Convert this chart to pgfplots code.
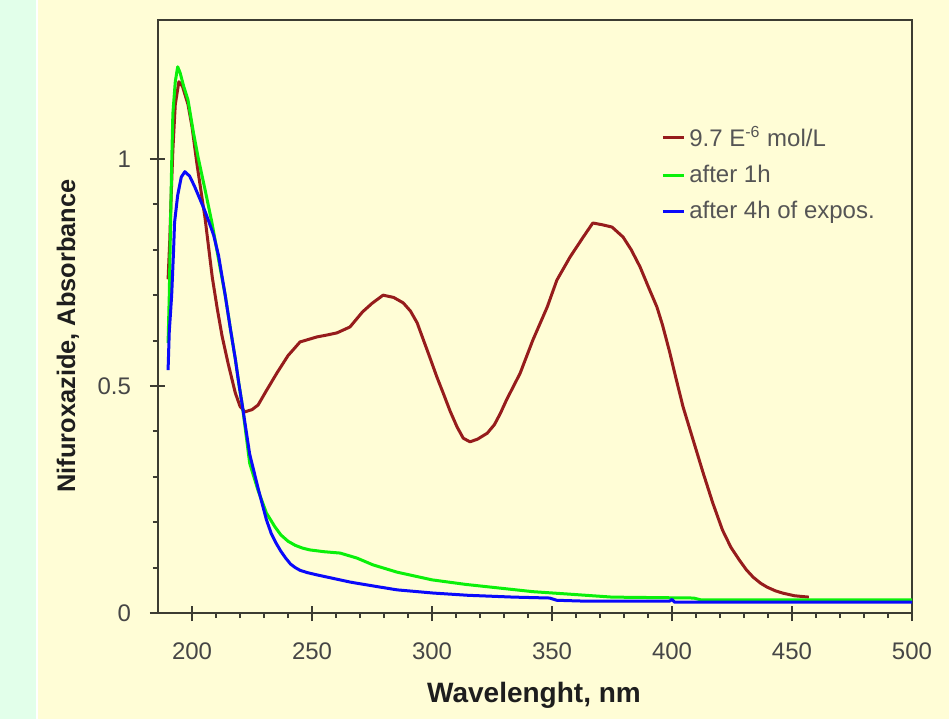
\documentclass[border=0pt]{standalone}
\usepackage{pgfplots}
\pgfplotsset{compat=1.18}
\usepackage{fontspec}
\setmainfont{Liberation Sans}
\definecolor{bgyellow}{RGB}{255,253,214}
\definecolor{bggreen}{RGB}{226,255,234}
\definecolor{curvered}{RGB}{150,28,28}
\definecolor{curvegreen}{RGB}{10,240,10}
\definecolor{curveblue}{RGB}{10,10,250}
\definecolor{axisgray}{RGB}{60,60,50}
\definecolor{ticktext}{RGB}{70,70,70}
\definecolor{legtext}{RGB}{85,85,85}

\begin{document}
\begin{tikzpicture}
\fill[bgyellow] (0pt,0pt) rectangle (474.5pt,-359.5pt);
\fill[bggreen] (0pt,0pt) rectangle (18pt,-359.5pt);
\fill[white] (18pt,0pt) rectangle (19pt,-359.5pt);
\useasboundingbox (0pt,0pt) rectangle (474.5pt,-359.5pt);
\begin{axis}[
  at={(79pt,-306.5pt)}, anchor=south west,
  scale only axis, width=377pt, height=296.5pt,
  xmin=185.8, xmax=500, ymin=0, ymax=1.306,
  axis line style={axisgray, line width=1pt},
  xtick={200,250,300,350,400,450,500}, ytick={0,0.5,1},
  minor x tick num=4, minor y tick num=4,
  xtick pos=left, ytick pos=left,
  tick align=outside,
  major tick length=4pt, minor tick length=2.5pt,
  tick style={axisgray, line width=1pt},
  extra x ticks={200,250,300,350,400,450}, extra x tick labels={},
  extra y ticks={0.5,1}, extra y tick labels={},
  extra tick style={tick align=inside, major tick length=3.5pt},
  /pgf/number format/assume math mode=true,
  ticklabel style={font=\fontsize{12}{14}\selectfont, text=ticktext},
  xticklabel style={yshift=-7.5pt},
  yticklabel style={xshift=-6pt},
  legend style={at={(0.659,0.835)}, anchor=north west, draw=none, fill=none,
    font=\fontsize{12}{14}\selectfont, text=legtext, row sep=4pt,
    nodes={inner sep=2pt}},
  legend cell align=left,
  legend image code/.code={\draw[#1, line width=1.5pt] (0pt,0pt) -- (10.5pt,0pt);},
]
\addplot[curvered, line width=1.5pt, line join=round] coordinates {
(190,0.735) (190.7,0.82) (191.3,0.92) (192,1.02) (193,1.12) (194.5,1.17) (196,1.16)
(198.3,1.12) (200,1.07) (202,0.99) (205.4,0.87) (208.4,0.74) (210.5,0.67) (212.5,0.61)
(215,0.55) (218,0.485) (220,0.455) (222,0.443) (225,0.448) (227.5,0.458) (231,0.49)
(235.4,0.529) (240,0.567) (245,0.597) (252,0.608) (256,0.612) (260.4,0.617) (265.8,0.630)
(271,0.663) (275,0.682) (279.6,0.700) (284,0.695) (288,0.683) (291,0.665) (293.8,0.639)
(296.5,0.60) (299,0.564) (302,0.52) (304.6,0.485) (307.5,0.445) (310.4,0.41) (313,0.385)
(315.8,0.377) (319,0.383) (323,0.396) (326,0.415) (328.5,0.44) (331,0.469) (336.7,0.528)
(342,0.601) (348,0.674) (352,0.733) (357.5,0.784) (363,0.828) (367,0.859) (371,0.855)
(375,0.85) (379.6,0.828) (383,0.80) (386.7,0.762) (390,0.72) (393.7,0.674) (396,0.635)
(399,0.575) (401.5,0.52) (404.6,0.454) (408.8,0.381) (413,0.308) (417,0.242) (421,0.183)
(424.5,0.145) (428,0.117) (431,0.095) (433.8,0.079) (436.8,0.066) (439.6,0.057)
(443,0.049) (446,0.044) (451,0.038) (457,0.035)
};
\addlegendentry{9.7 E\textsuperscript{-6} mol/L}
\addplot[curvegreen, line width=1.5pt, line join=round] coordinates {
(190,0.595) (190.5,0.70) (191,0.85) (191.5,0.99) (192,1.10) (193,1.17) (194,1.203)
(195,1.19) (196.5,1.16) (198.3,1.13) (200.5,1.06) (202.5,1.004) (205.5,0.93) (208.3,0.859)
(211,0.78) (213.8,0.70) (216,0.625) (218,0.56) (219.5,0.505) (221,0.455) (224,0.33)
(227.5,0.27) (231,0.22) (234.5,0.19) (237,0.172) (240,0.158) (243,0.149) (246,0.143)
(249,0.139) (255,0.135) (261.7,0.132) (268.7,0.121) (275.4,0.106) (285.4,0.09) (300,0.073)
(314,0.063) (328,0.055) (342,0.047) (356,0.042) (375,0.035) (392,0.034) (409,0.033)
(412,0.029) (500,0.029)
};
\addlegendentry{after 1h}
\addplot[curveblue, line width=1.5pt, line join=round] coordinates {
(190,0.535) (190.5,0.62) (191.5,0.70) (192.3,0.80) (192.7,0.86) (194,0.92) (195.5,0.96)
(197,0.972) (199,0.962) (201,0.94) (203,0.915) (205,0.89) (207,0.862) (209,0.832)
(211,0.788) (213.8,0.70) (216,0.625) (218,0.56) (219.5,0.505) (221,0.455) (224,0.35)
(227.5,0.275) (231,0.205) (233,0.175) (235,0.154) (237,0.136) (239,0.121) (241,0.108)
(243,0.100) (245,0.094) (248,0.089) (252,0.084) (259,0.076) (266,0.068) (275,0.06)
(285.4,0.051) (300.4,0.044) (315,0.039) (334,0.035) (349,0.033) (352,0.028)
(364.5,0.026) (399,0.026) (400,0.030) (401,0.024) (500,0.024)
};
\addlegendentry{after 4h of expos.}
\end{axis}
\node[rotate=90, font=\bfseries\fontsize{12.7}{15}\selectfont, text={rgb,255:red,30;green,30;blue,30}] at (34pt,-168pt) {Nifuroxazide, Absorbance};
\node[font=\bfseries\fontsize{14}{16}\selectfont, text={rgb,255:red,30;green,30;blue,30}] at (267pt,-347.5pt) {Wavelenght, nm};
\end{tikzpicture}
\end{document}
